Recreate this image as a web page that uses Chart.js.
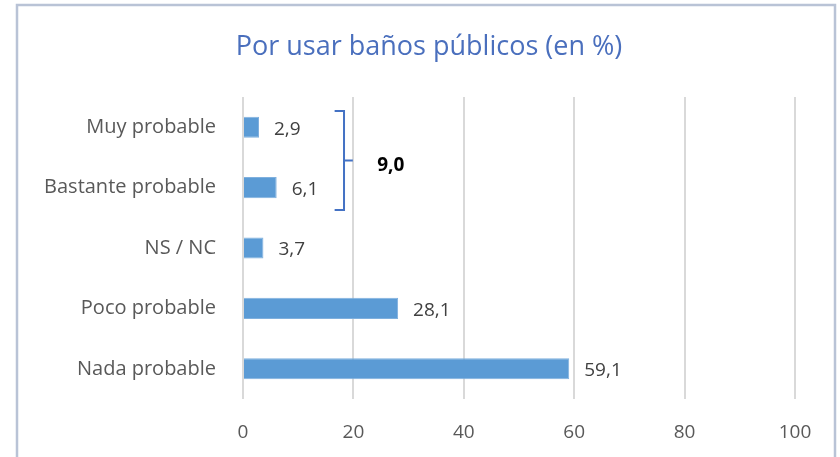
<!DOCTYPE html>
<html>
<head>
<meta charset="utf-8">
<script src="https://cdn.jsdelivr.net/npm/chart.js@4"></script>
<style>
    html, body { margin: 0; padding: 0; background: #fff; }
    #wrap { position: relative; width: 840px; height: 457px; }
</style>
</head>
<body>
<div id="wrap"><canvas id="chart" width="840" height="457"></canvas></div>
<script>
const categories = ["Muy probable", "Bastante probable", "NS / NC", "Poco probable", "Nada probable"];
const values = [2.9, 6.1, 3.7, 28.1, 59.1];
const xTicks = [0, 20, 40, 60, 80, 100];
const bracketGroup = [0, 1];   // categories summed by the bracket
const titleText = 'Por usar baños públicos (en %)';

const FONT = "'Open Sans', 'Noto Sans', sans-serif";
const fmt = v => v.toFixed(1).replace('.', ',');

// frame round the chart, open at the bottom, and the title
const framePlugin = {
    id: 'frame',
    beforeDraw(chart) {
        const ctx = chart.ctx;
        ctx.save();
        ctx.strokeStyle = '#b9c3d6';
        ctx.lineWidth = 2.5;
        ctx.strokeRect(17, 5, 818, 470);

        ctx.font = "27px " + FONT;
        ctx.fillStyle = '#4a6fbd';
        ctx.textAlign = 'center';
        ctx.textBaseline = 'middle';
        ctx.fillText(titleText, 429, 47);
        ctx.restore();
    }
};

// value labels at the end of each bar
const valueLabels = {
    id: 'valueLabels',
    afterDatasetsDraw(chart) {
        const ctx = chart.ctx;
        const meta = chart.getDatasetMeta(0);
        ctx.save();
        ctx.font = "19px " + FONT;
        ctx.fillStyle = '#404040';
        ctx.textAlign = 'left';
        ctx.textBaseline = 'middle';
        meta.data.forEach((bar, i) => {
            ctx.fillText(fmt(values[i]), bar.x + 15, bar.y + 2);
        });
        ctx.restore();
    }
};

// bracket joining the two "probable" rows, with their sum
const bracketPlugin = {
    id: 'bracket',
    afterDraw(chart) {
        const x = chart.scales.x;
        const y = chart.scales.y;
        const step = y.getPixelForValue(1) - y.getPixelForValue(0);
        const top = y.getPixelForValue(bracketGroup[0]) - 0.27 * step;
        const bottom = y.getPixelForValue(bracketGroup[1]) + 0.37 * step;
        const mid = (top + bottom) / 2;
        const bx = x.getPixelForValue(18.3);
        const hook = x.getPixelForValue(18.3) - x.getPixelForValue(16.6);
        const ctx = chart.ctx;
        ctx.save();
        ctx.strokeStyle = '#4472c4';
        ctx.lineWidth = 2;
        ctx.beginPath();
        ctx.moveTo(bx - hook, top);
        ctx.lineTo(bx, top);
        ctx.lineTo(bx, bottom);
        ctx.lineTo(bx - hook, bottom);
        ctx.moveTo(bx, mid);
        ctx.lineTo(x.getPixelForValue(19.9), mid);
        ctx.stroke();

        const sum = bracketGroup.reduce((s, i) => s + values[i], 0);
        ctx.font = "bold 19px " + FONT;
        ctx.fillStyle = '#000';
        ctx.textAlign = 'left';
        ctx.textBaseline = 'middle';
        ctx.fillText(fmt(sum), x.getPixelForValue(24.3), mid + 5);
        ctx.restore();
    }
};

new Chart(document.getElementById('chart'), {
    type: 'bar',
    data: {
        labels: categories,
        datasets: [{
            data: values,
            backgroundColor: '#5b9bd5',
            borderColor: '#7fb0de',
            borderWidth: 1,
            barPercentage: 0.35,
            categoryPercentage: 1
        }]
    },
    options: {
        indexAxis: 'y',
        responsive: false,
        animation: false,
        layout: { padding: { top: 97, right: 45, bottom: 0, left: 0 } },
        plugins: {
            legend: { display: false },
            tooltip: { enabled: false },
            title: { display: false }
        },
        scales: {
            x: {
                min: 0,
                max: 100,
                afterBuildTicks(axis) {
                    axis.ticks = xTicks.map(v => ({ value: v }));
                },
                afterFit(axis) { axis.height = 58; },
                grid: { color: '#d9d9d9', lineWidth: 2, drawTicks: false },
                border: { display: false },
                ticks: {
                    padding: 22,
                    maxRotation: 0,
                    color: '#595959',
                    font: { family: FONT, size: 19 }
                }
            },
            y: {
                afterFit(axis) { axis.width = 243; },
                grid: { display: false },
                border: { display: false },
                ticks: {
                    padding: 19,
                    color: '#595959',
                    font: { family: FONT, size: 20 }
                }
            }
        }
    },
    plugins: [framePlugin, valueLabels, bracketPlugin]
});
</script>
</body>
</html>
